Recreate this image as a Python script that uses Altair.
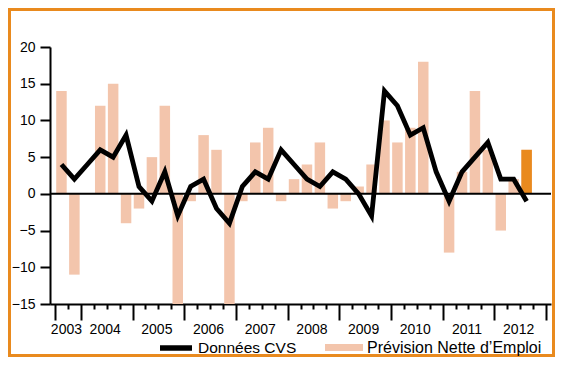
import altair as alt
import pandas as pd

# ---- data (quarters 2003T3 .. 2012T3) ----
years = ["2003", "2004", "2005", "2006", "2007", "2008", "2009", "2010", "2011", "2012"]
quarters = ["2003T3", "2003T4"] + [f"{y}T{q}" for y in years[1:-1] for q in (1, 2, 3, 4)] + ["2012T1", "2012T2", "2012T3"]
prevision = [14, -11,
             0, 12, 15, -4,
             -2, 5, 12, -15,
             -1, 8, 6, -15,
             -1, 7, 9, -1,
             2, 4, 7, -2,
             -1, 1, 4, 10,
             7, 9, 18, 0,
             -8, 3, 14, 6,
             -5, 2, 6]
cvs = [4, 2,
       4, 6, 5, 8,
       1, -1, 3, -3,
       1, 2, -2, -4,
       1, 3, 2, 6,
       4, 2, 1, 3,
       2, 0, -3, 14,
       12, 8, 9, 3,
       -1, 3, 5, 7,
       2, 2, -1]
series_names = ["Données CVS", "Prévision Nette d’Emploi"]
y_ticks = [-15, -10, -5, 0, 5, 10, 15, 20]
quarter_bounds = list(range(0, 39))
year_bounds = [0, 2, 6, 10, 14, 18, 22, 26, 30, 34, 38]
year_label_pos = [1, 4, 8, 12, 16, 20, 24, 28, 32, 36]

SALMON = "#F3C5AC"
ORANGE = "#E98A1E"
FONT = "Liberation Sans"

df = pd.DataFrame({
    "quarter": quarters,
    "pos": [i + 0.5 for i in range(len(quarters))],
    "prevision": prevision,
    "cvs": cvs,
    "s_line": series_names[0],
    "s_bar": series_names[1],
})
last = df.iloc[[-1]]

label_expr = ""
for p, y in zip(year_label_pos, years):
    label_expr += f"datum.value == {p} ? '{y}' : "
label_expr += "''"

x_scale = alt.Scale(domain=[0, 38], nice=False, zero=False)
y_scale = alt.Scale(domain=[-15, 20], nice=False, zero=False)

x_axis = alt.Axis(
    values=quarter_bounds, labelExpr=label_expr,
    tickSize={"condition": {"test": f"indexof({year_bounds}, datum.value) >= 0", "value": 16}, "value": 5},
    tickWidth=2, tickColor="black", domainWidth=2, domainColor="black",
    labelPadding=13, labelFontSize=14, labelFont=FONT, labelColor="black", labelOffset=-2,
    labelOverlap=False, labelFlush=False, grid=False, title=None,
)
y_axis = alt.Axis(
    values=y_ticks, tickSize=10, tickWidth=2, tickColor="black",
    domainWidth=2, domainColor="black", labelPadding=5, labelOverlap=False,
    labelFontSize=14, labelFont=FONT, labelColor="black", grid=False, title=None,
)

X = alt.X("pos:Q", scale=x_scale, axis=x_axis)

bars = alt.Chart(df).mark_bar(size=10.5).encode(
    x=X,
    y=alt.Y("prevision:Q", scale=y_scale, axis=y_axis),
    y2=alt.datum(0),
    fill=alt.Fill(
        "s_bar:N",
        scale=alt.Scale(domain=[series_names[1]], range=[SALMON]),
        legend=alt.Legend(
            orient="none", legendX=275, legendY=281.5, title=None, padding=0,
            symbolType="M-1,-0.19H1V0.19H-1Z", symbolSize=1444, symbolStrokeWidth=0,
            symbolOpacity=1, labelFontSize=16, labelFont=FONT, labelColor="black",
            labelOffset=4, labelLimit=400,
        ),
    ),
)

last_bar = alt.Chart(last).mark_bar(size=10.5, color=ORANGE).encode(
    x=X,
    y=alt.Y("prevision:Q", scale=y_scale, axis=y_axis),
    y2=alt.datum(0),
)

zero = alt.Chart(pd.DataFrame({"zero": [0]})).mark_rule(color="black", strokeWidth=2).encode(
    y=alt.Y("zero:Q", scale=y_scale, axis=y_axis)
)

line = alt.Chart(df).mark_line(strokeWidth=4.8, strokeJoin="miter").encode(
    x=X,
    y=alt.Y("cvs:Q", scale=y_scale, axis=y_axis),
    stroke=alt.Stroke(
        "s_line:N",
        scale=alt.Scale(domain=[series_names[0]], range=["black"]),
        legend=alt.Legend(
            orient="none", legendX=107, legendY=282, title=None, padding=0,
            symbolType="stroke", symbolSize=1024, symbolStrokeWidth=5.5,
            labelFontSize=15.5, labelFont=FONT, labelColor="black", labelOffset=3,
            labelLimit=400,
        ),
    ),
)

border = alt.Chart(pd.DataFrame({"b": [0]})).mark_rect(filled=False, color=ORANGE, strokeWidth=3).encode(
    x=alt.value(-40.5), x2=alt.value(503.5), y=alt.value(-37.5), y2=alt.value(308.5)
)

chart = (
    alt.layer(bars, last_bar, zero, line, border)
    .properties(
        width=501, height=257,
        autosize=alt.AutoSizeParams(type="none"),
        padding={"left": 42, "top": 39, "right": 4, "bottom": 53},
    )
    .configure(font=FONT)
    .configure_view(strokeWidth=0)
    .configure_axis(labelOverlap=False)
)

chart.save("out.html", embed_options={"renderer": "svg", "actions": False})
